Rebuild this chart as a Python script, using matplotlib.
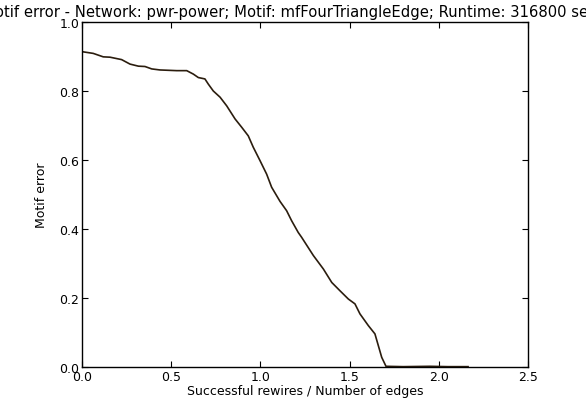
import matplotlib
matplotlib.use("Agg")
import matplotlib.pyplot as plt

# values
rewires = [0.0, 0.063, 0.119, 0.157, 0.222, 0.269, 0.316, 0.353, 0.391, 0.437,
           0.531, 0.587, 0.624, 0.652, 0.689, 0.708, 0.736, 0.774, 0.811, 0.858,
           0.895, 0.932, 0.960, 0.998, 1.035, 1.063, 1.110, 1.147, 1.175, 1.212,
           1.231, 1.297, 1.353, 1.400, 1.446, 1.493, 1.530, 1.558, 1.605, 1.642,
           1.661, 1.680, 1.704, 1.80, 1.95, 2.05, 2.164]
error = [0.914, 0.909, 0.899, 0.898, 0.891, 0.878, 0.872, 0.871, 0.864, 0.861,
         0.859, 0.859, 0.849, 0.839, 0.835, 0.820, 0.800, 0.782, 0.757, 0.719,
         0.695, 0.670, 0.637, 0.598, 0.559, 0.521, 0.480, 0.453, 0.424, 0.390,
         0.376, 0.323, 0.284, 0.245, 0.221, 0.197, 0.183, 0.154, 0.120, 0.096,
         0.062, 0.028, 0.002, 0.001, 0.002, 0.001, 0.001]

title = "Motif error - Network: pwr-power; Motif: mfFourTriangleEdge; Runtime: 316800 sec"

fig = plt.figure(figsize=(5.86, 4.02), dpi=100)
ax = fig.add_axes([82/586, 1-368/402, (528-82)/586, (368-23)/402])

ax.plot(rewires, error, color="#2b1d0e", linewidth=1.2)

ax.set_xlim(0, 2.5)
ax.set_ylim(0, 1.0)
ax.set_xticks([0.0, 0.5, 1.0, 1.5, 2.0, 2.5])
ax.set_yticks([0.0, 0.2, 0.4, 0.6, 0.8, 1.0])
ax.tick_params(direction="in", top=True, right=True, labelsize=9, length=4, pad=2)
for s in ax.spines.values():
    s.set_linewidth(1.0)

ax.set_xlabel("Successful rewires / Number of edges", fontsize=9, labelpad=1)
ax.set_ylabel("Motif error", fontsize=9, labelpad=8)
fig.text(289/586, 1-12/402, title, fontsize=10.6, ha="center", va="center")

fig.savefig("out.png", dpi=100)
